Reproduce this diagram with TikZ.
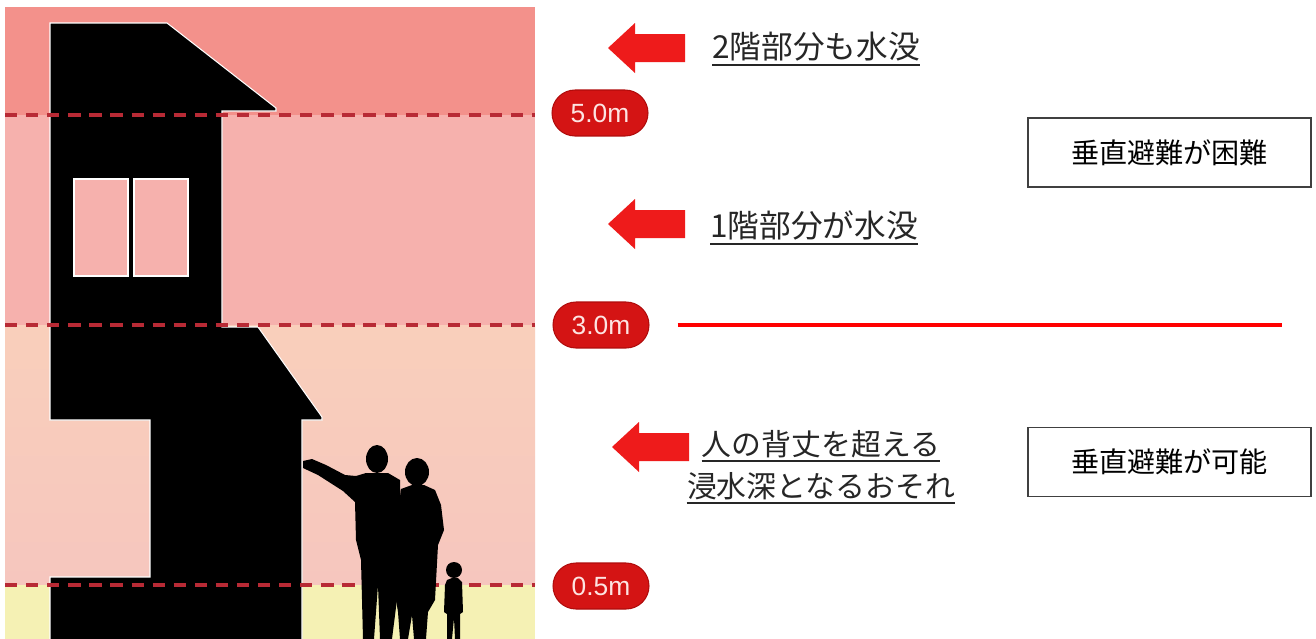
\documentclass[tikz,border=0pt]{standalone}
\usepackage{fontspec}
\setmainfont{Liberation Sans}
\newfontfamily\jp{Noto Sans CJK JP}
\usetikzlibrary{shapes.misc,calc}

\definecolor{bandA}{HTML}{F3918B}
\definecolor{bandB}{HTML}{F6B1AD}
\definecolor{bandC}{HTML}{F9CFBB}
\definecolor{bandCc}{HTML}{F6C6BE}
\definecolor{bandD}{HTML}{F5F1B4}
\definecolor{dashred}{HTML}{B82A35}
\definecolor{pillred}{HTML}{D41414}
\definecolor{pillborder}{HTML}{B00C0C}
\definecolor{pilltext}{HTML}{FDE4E2}
\definecolor{arrowred}{HTML}{EE1B1B}
\definecolor{textgray}{HTML}{262626}
\definecolor{boxgray}{HTML}{404040}

\tikzset{
  pill/.style={rounded rectangle, fill=pillred, draw=pillborder, line width=0.6pt,
    minimum width=1.92cm, minimum height=0.92cm, inner sep=0pt, text=pilltext,
    font=\fontsize{15}{15}\selectfont},
  note/.style={draw=boxgray, line width=0.8pt, minimum width=5.66cm,
    minimum height=1.38cm, inner sep=0pt, font=\jp\fontsize{16}{16}\selectfont},
  lbl/.style={font=\jp\fontsize{18}{18}\selectfont, text=textgray, inner sep=0pt},
  lblsmall/.style={font=\jp\fontsize{17}{17}\selectfont, text=textgray, inner sep=0pt},
  uline/.style={draw=textgray, line width=1.1pt},
  floodline/.style={draw=dashred, line width=2.2pt, dash pattern=on 7pt off 5pt},
  divider/.style={draw=red, line width=2.2pt},
  silhouette/.style={fill=black, draw=white, line width=0.6pt, line join=miter},
  figure/.style={fill=black},
  leftarrow/.pic={\fill[arrowred] (0,0) -- (27,-25) -- (27,-14) -- (77,-14)
    -- (77,14) -- (27,14) -- (27,25) -- cycle;}
}

\begin{document}
\begin{tikzpicture}[x=0.02cm, y=-0.02cm]
\useasboundingbox (0,0) rectangle (1316,639);
\fill[white] (0,0) rectangle (1316,639);

% flood-depth bands
\fill[bandA] (5,7) rectangle (535,115);
\fill[bandB] (5,115) rectangle (535,325);
\shade[top color=bandC, bottom color=bandCc] (5,325) rectangle (535,585);
\fill[bandD] (5,585) rectangle (535,639);

% two-storey house
\draw[silhouette] (50,23) -- (167,23) -- (276,108) -- (276,111) -- (222,111)
  -- (222,327) -- (258,327) -- (322,417) -- (322,420) -- (302,420) -- (302,640)
  -- (50,640) -- (50,577) -- (150,577) -- (150,420) -- (50,420) -- cycle;
% upper windows
\fill[bandB, draw=white, line width=0.8pt] (74,179) rectangle (128,276);
\fill[bandB, draw=white, line width=0.8pt] (134,179) rectangle (188,276);

% water level marks
\draw[floodline] (5,115) -- (535,115);
\draw[floodline] (5,325) -- (535,325);
\draw[floodline] (5,585) -- (535,585);

% family standing by the house
\fill[figure] (377,459) ellipse [x radius=11, y radius=14];
\fill[figure] (303,461) -- (312,459) -- (326,465) -- (345,475) -- (356,476)
  -- (366,473) -- (388,473) -- (400,480) -- (402,560) -- (392,639) -- (380,639)
  -- (378,585) -- (374,639) -- (363,639) -- (361,560) -- (356,540) -- (355,502)
  -- (343,491) -- (318,475) -- (303,468) -- cycle;
\fill[figure] (417,472) ellipse [x radius=12, y radius=14];
\fill[figure] (401,489) -- (412,485) -- (424,485) -- (435,490) -- (441,505)
  -- (444,530) -- (438,545) -- (435,600) -- (428,612) -- (426,639) -- (414,639)
  -- (412,615) -- (408,639) -- (400,639) -- (398,612) -- (396,600) -- (398,560)
  -- (397,520) -- cycle;
\fill[figure] (454,570) circle [radius=8];
\fill[figure] (447,580) -- (452,578) -- (458,578) -- (462,582) -- (463,612)
  -- (460,614) -- (460,639) -- (455,639) -- (454,618) -- (452,639) -- (447,639)
  -- (447,614) -- (444,612) -- (445,585) -- cycle;

% depth labels
\node[pill] (p50) at (600,113) {5.0m};
\node[pill] (p30) at (601,325) {3.0m};
\node[pill] (p05) at (601,586) {0.5m};

% arrows and captions
\pic at (608,48) {leftarrow};
\pic at (608,224) {leftarrow};
\pic at (612,447) {leftarrow};

\node[lbl, anchor=base west] (t1) at (712,58) {2階部分も水没};
\draw[uline] ($(t1.base west)+(0,7)$) -- ($(t1.base east)+(0,7)$);
\node[lbl, anchor=base west] (t2) at (710,237) {1階部分が水没};
\draw[uline] ($(t2.base west)+(0,7)$) -- ($(t2.base east)+(0,7)$);
\node[lblsmall, anchor=base] (t3a) at (821,455) {人の背丈を超える};
\draw[uline] ($(t3a.base west)+(0,6)$) -- ($(t3a.base east)+(0,6)$);
\node[lblsmall, anchor=base] (t3b) at (821,497) {浸水深となるおそれ};
\draw[uline] ($(t3b.base west)+(0,6)$) -- ($(t3b.base east)+(0,6)$);

% evacuation threshold
\coordinate (divEnd) at (1282,325);
\draw[divider] ($(p30.east)+(28,0)$) -- (divEnd);

\node[note] (hard) at (1169.5,152.5) {垂直避難が困難};
\node[note] (ok) at (1169.5,462) {垂直避難が可能};
\end{tikzpicture}
\end{document}
